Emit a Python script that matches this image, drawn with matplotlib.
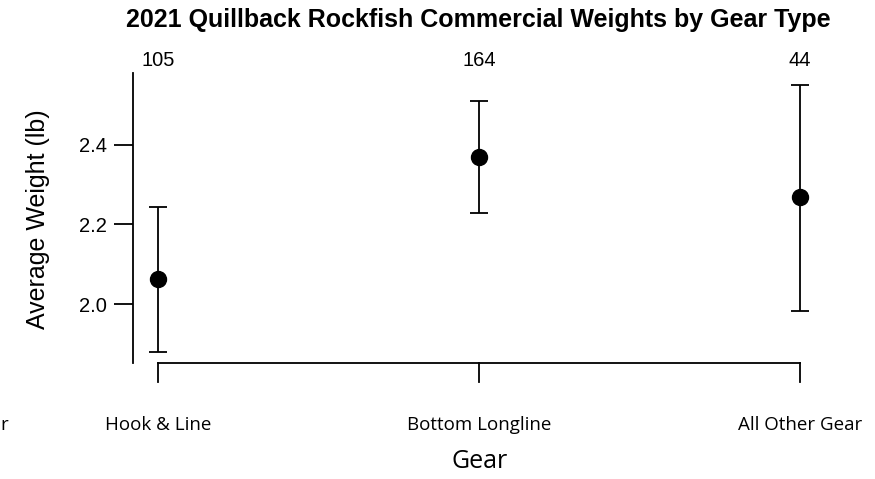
import matplotlib
matplotlib.use("Agg")
import matplotlib.pyplot as plt

# Data
gears = ["Hook & Line", "Bottom Longline", "All Other Gear"]
counts = [105, 164, 44]
mean_weight = [2.063, 2.370, 2.268]
upper = [2.245, 2.511, 2.551]
lower = [1.879, 2.230, 1.982]
y_ticks = [2.0, 2.2, 2.4]

W, H = 875, 479
fig = plt.figure(figsize=(W / 100, H / 100), dpi=100)
# axes area in pixels: left 133, right 875, top 73, bottom 363
ax = fig.add_axes([133 / W, 1 - 363 / H, (W - 133) / W, (363 - 73) / H])

xpos = [1, 2, 3]
px_per_unit = (800 - 158) / 2
ax.set_xlim(1 - (158 - 133) / px_per_unit, 3 + (W - 800) / px_per_unit)
px_per_y = (304 - 145) / 0.4
ax.set_ylim(2.0 - (363 - 304) / px_per_y, 2.4 + (145 - 73) / px_per_y)

yerr = [[m - lo for m, lo in zip(mean_weight, lower)],
        [up - m for m, up in zip(mean_weight, upper)]]
ax.errorbar(xpos, mean_weight, yerr=yerr, fmt="o", color="black",
            markersize=11.5, capsize=6.5, elinewidth=1.3, capthick=1.3,
            clip_on=False)

for s in ["top", "right", "bottom"]:
    ax.spines[s].set_visible(False)
ax.spines["left"].set_linewidth(1.3)

ax.set_yticks(y_ticks)
ax.set_yticklabels([f"{v:.1f}" for v in y_ticks], fontsize=14.5,
                   family="Liberation Sans")
ax.tick_params(axis="y", length=14, width=1.3, pad=5)
ax.set_xticks([])

# R-style x axis drawn below the plot region
axis_y = 2.0 - (363 - 304) / px_per_y
tick_end = axis_y - (382 - 363) / px_per_y
ax.plot([1, 3], [axis_y, axis_y], color="black", lw=1.3, clip_on=False)
for x in xpos:
    ax.plot([x, x], [axis_y, tick_end], color="black", lw=1.3, clip_on=False)

label_y = axis_y - (425 - 363) / px_per_y
for x, g in zip(xpos, gears):
    ax.text(x, label_y, g, ha="center", va="center", fontsize=13.5,
            family="Open Sans", clip_on=False)
# stray label fragment at the far left edge
fig.text(0, 1 - 425 / H, "r", ha="left", va="center", fontsize=13.5,
         family="Open Sans")

count_y = 2.4 + (145 - 60) / px_per_y
for x, n in zip(xpos, counts):
    ax.text(x, count_y, str(n), ha="center", va="center", fontsize=14.5,
            family="Liberation Sans", clip_on=False)

fig.text(478 / W, 1 - 20 / H, "2021 Quillback Rockfish Commercial Weights by Gear Type",
         ha="center", va="center", fontsize=18, fontweight="bold",
         family="Liberation Sans")
fig.text(38 / W, 1 - 219 / H, "Average Weight (lb)", rotation=90, ha="center",
         va="center", fontsize=18, family="Liberation Sans")
fig.text(480 / W, 1 - 462 / H, "Gear", ha="center", va="center", fontsize=18,
         family="Open Sans")

fig.savefig("out.png", dpi=100)
